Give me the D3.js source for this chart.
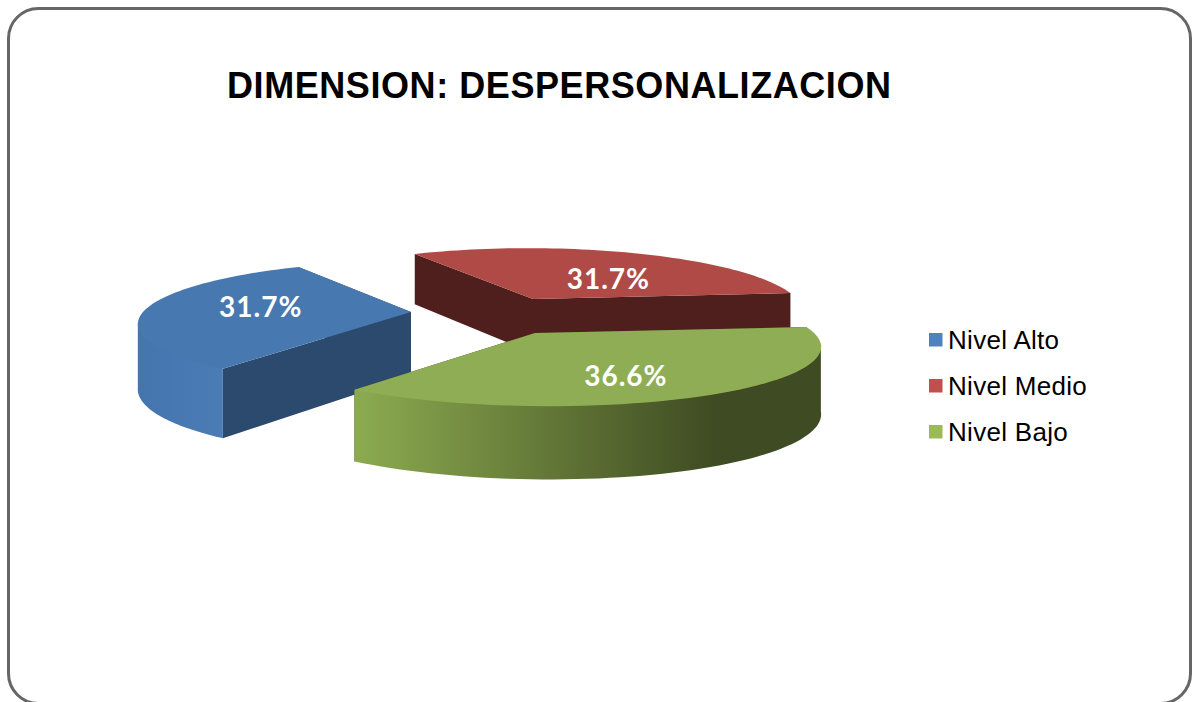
<!DOCTYPE html>
<html>
<head>
<meta charset="utf-8">
<script src="https://cdn.jsdelivr.net/npm/d3@7"></script>
<style>
  html, body { margin: 0; padding: 0; background: #fff; overflow: hidden; }
  svg { display: block; }
</style>
</head>
<body>
<svg id="chart"></svg>
<script>
// chart values
const categories = ["Nivel Alto", "Nivel Medio", "Nivel Bajo"];
const values = [31.7, 31.7, 36.6];
const titleText = "DIMENSION: DESPERSONALIZACION";

// colours per slice
const topColors = ["#4878b0", "#b04a46", "#8fad54"];
const sideColors = ["#2c4a6e", "#4f1f1d", "#3f4b22"];
const legendColors = ["#4f81bd", "#c0504d", "#9bbb59"];

// layout of the exploded slices (apex on screen, radius, horizontal lean, wall height)
const apexX = [411, 533, 535];
const apexY = [312, 299, 333];
const radiusX = [268, 264, 279];
const lean = [-4, 6, 12];
const depths = [64, 54, 66];
const labelPos = [[0.55, -4, -4], [0.72, 1, 13], [0.6, -8, 8]]; // radius share, dx, dy

const width = 1192, height = 702;
const radiusY = 60, persp = 0.18;
const firstAngle = 126 * Math.PI / 180;

const svg = d3.select("#chart").attr("width", width).attr("height", height);
const defs = svg.append("defs");

const wallGrad = defs.append("linearGradient").attr("id", "wall2")
  .attr("gradientUnits", "userSpaceOnUse")
  .attr("x1", 355).attr("x2", 715).attr("y1", 0).attr("y2", 0);
wallGrad.append("stop").attr("offset", 0).attr("stop-color", "#8cab50");
wallGrad.append("stop").attr("offset", 1).attr("stop-color", "#3f4b22");

const wallGradBlue = defs.append("linearGradient").attr("id", "wall0")
  .attr("gradientUnits", "userSpaceOnUse")
  .attr("x1", 138).attr("x2", 225).attr("y1", 0).attr("y2", 0);
wallGradBlue.append("stop").attr("offset", 0).attr("stop-color", "#4575ad");
wallGradBlue.append("stop").attr("offset", 1).attr("stop-color", "#4a7cb6");

// border
svg.append("rect")
  .attr("x", 8.5).attr("y", 8.5)
  .attr("width", 1182).attr("height", 695)
  .attr("rx", 30).attr("ry", 30)
  .attr("fill", "#fff").attr("stroke", "#666").attr("stroke-width", 3);

// title
svg.append("text")
  .attr("x", 227).attr("y", 98)
  .attr("font-family", "'Liberation Sans', Arial, sans-serif")
  .attr("font-weight", "bold").attr("font-size", 36)
  .attr("letter-spacing", 0.57)
  .attr("fill", "#000")
  .text(titleText);

const pie = d3.pie().sort(null).startAngle(firstAngle).endAngle(firstAngle + 2 * Math.PI);
const arcs = pie(values);

// a point of the disc of slice i, at angle t and share r of the radius
function project(i, t, r = 1, drop = 0) {
  const X = Math.cos(t) * r, Z = Math.sin(t) * r;
  const s = 1 / (1 - persp * Z);
  return [
    apexX[i] + radiusX[i] * X * s + lean[i] * Z * s,
    apexY[i] + radiusY * Z * s + drop * (1 + (s - 1) * 0.5)
  ];
}

const line = d3.line();
const sampleAngles = (a, b) => d3.range(0, 61).map(k => a + (b - a) * k / 60);

// front window of the rim, where the outer wall can be seen
const frontA = Math.asin(persp), frontB = Math.PI - Math.asin(persp);
function visibleRange(a, b) {
  for (const off of [0, 2 * Math.PI]) {
    const lo = Math.max(a, frontA + off), hi = Math.min(b, frontB + off);
    if (hi > lo) return [lo, hi];
  }
  return null;
}

// back to front: red, blue, green
[1, 0, 2].forEach(i => {
  const d = arcs[i];
  const g = svg.append("g");

  [d.startAngle, d.endAngle].forEach(t => {
    const rimTop = project(i, t), rimBot = project(i, t, 1, depths[i]);
    const cTop = [apexX[i], apexY[i]], cBot = project(i, t, 0, depths[i]);
    g.append("path")
      .attr("d", line([cTop, rimTop, rimBot, cBot]) + "Z")
      .attr("fill", sideColors[i]);
  });

  const vis = visibleRange(d.startAngle, d.endAngle);
  if (vis) {
    const angles = sampleAngles(vis[0], vis[1]);
    // upper edge lifted under the top face so no pale seam shows, ends stay on the rim
    const upper = angles.map((t, k) => {
      const p = project(i, t);
      return (k === 0 || k === angles.length - 1) ? p : [p[0], p[1] - 1.5];
    });
    const lower = angles.map(t => project(i, t, 1, depths[i])).reverse();
    g.append("path")
      .attr("d", line(upper.concat(lower)) + "Z")
      .attr("fill", `url(#wall${i})`);
  }

  const rim = sampleAngles(d.startAngle, d.endAngle).map(t => project(i, t));
  g.append("path")
    .attr("d", line([[apexX[i], apexY[i]]].concat(rim)) + "Z")
    .attr("fill", topColors[i]);
});

// percentage labels
arcs.forEach((d, i) => {
  const mid = (d.startAngle + d.endAngle) / 2;
  const p = project(i, mid, labelPos[i][0]);
  svg.append("text")
    .attr("x", p[0] + labelPos[i][1]).attr("y", p[1] + labelPos[i][2])
    .attr("text-anchor", "middle").attr("dominant-baseline", "central")
    .attr("font-family", "Lato, 'Open Sans', sans-serif")
    .attr("font-weight", 700).attr("font-size", 28)
    .attr("letter-spacing", 1)
    .attr("fill", "#fff")
    .text(d3.format(".1f")(values[i]) + "%");
});

// legend
const legendY = d3.scalePoint().domain(categories).range([340, 432]);
const legend = svg.selectAll(".legend").data(categories).join("g")
  .attr("class", "legend")
  .attr("transform", d => `translate(929,${legendY(d)})`);
legend.append("rect")
  .attr("x", 0).attr("y", -7).attr("width", 13.5).attr("height", 13.5)
  .attr("fill", (d, i) => legendColors[i]);
legend.append("text")
  .attr("x", 19).attr("y", 9)
  .attr("font-family", "'Liberation Sans', Arial, sans-serif")
  .attr("font-size", 26).attr("letter-spacing", 0.3).attr("fill", "#000")
  .text(d => d);
</script>
</body>
</html>
